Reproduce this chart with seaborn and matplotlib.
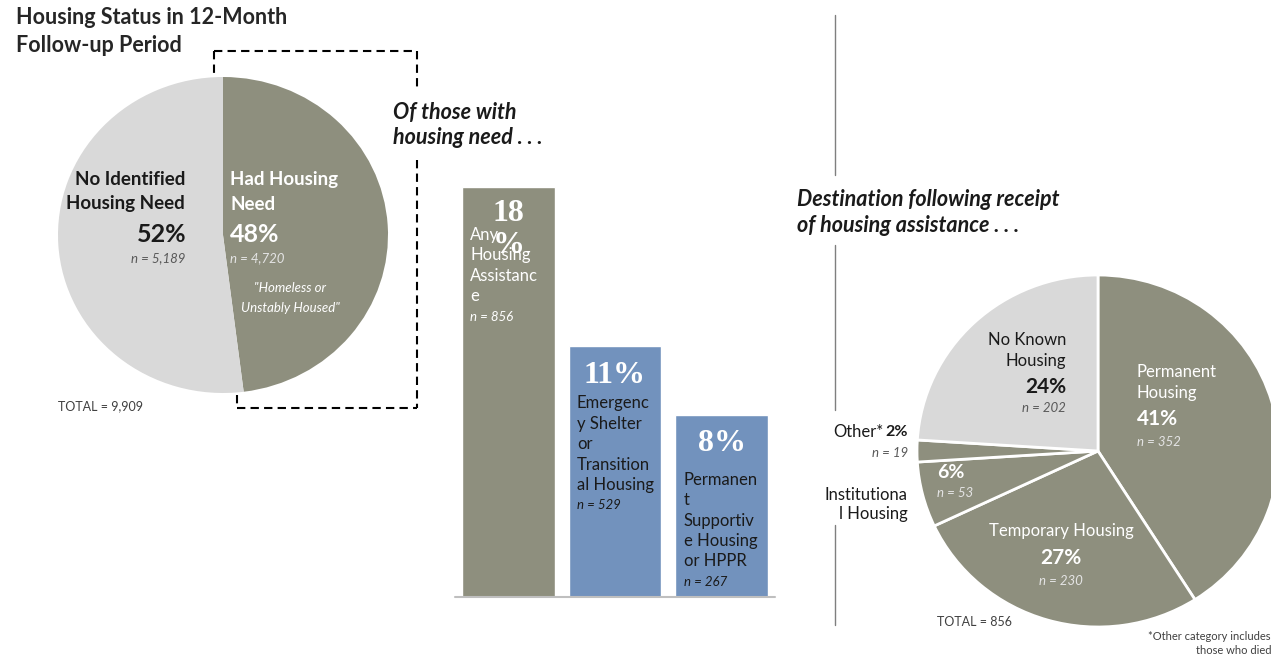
import matplotlib
matplotlib.use('Agg')
import matplotlib.pyplot as plt
from matplotlib.lines import Line2D
import seaborn as sns

# left pie: housing status in 12-month follow-up
status_labels = ['Had Housing Need', 'No Identified Housing Need']
status_pct = [48, 52]
status_n = ['4,720', '5,189']
status_total = '9,909'

# bars: of those with housing need
assist_labels = ['Any Housing Assistance',
                 'Emergency Shelter or Transitional Housing',
                 'Permanent Supportive Housing or HPPR']
assist_pct = [18, 11, 8]
assist_n = [856, 529, 267]
# wrapped the same way as the text boxes in the original
assist_lines = [['Any', 'Housing', 'Assistanc', 'e'],
                ['Emergenc', 'y Shelter', 'or', 'Transition', 'al Housing'],
                ['Permanen', 't', 'Supportiv', 'e Housing', 'or HPPR']]
assist_big = [['18', '%'], ['11%'], ['8%']]

# right pie: destination following receipt of housing assistance
dest_labels = ['Permanent Housing', 'Temporary Housing', 'Institutional Housing',
               'Other*', 'No Known Housing']
dest_pct = [41, 27, 6, 2, 24]
dest_n = [352, 230, 53, 19, 202]
dest_total = 856

OLIVE = '#8e8f7e'
LIGHT = '#d9d9d9'
BLUE = '#7292bd'
DARK = '#1a1a1a'
GREY_TXT = '#595959'
N_LIGHT = '#e4e4e4'

sns.set_style('white')
plt.rcParams['font.family'] = ['Lato', 'DejaVu Sans']
SERIF = ['Liberation Serif', 'DejaVu Serif']

W, H = 1271, 659
fig = plt.figure(figsize=(W / 100, H / 100), dpi=100)


def axes_px(left, top, right, bottom):
    return fig.add_axes([left / W, 1 - bottom / H, (right - left) / W, (bottom - top) / H])


def put(px, py, s, **kw):
    kw.setdefault('va', 'center')
    return fig.text(px / W, 1 - py / H, s, **kw)


def seg(xs, ys, **kw):
    fig.add_artist(Line2D([x / W for x in xs], [1 - y / H for y in ys],
                          transform=fig.transFigure, **kw))


# ---- title
put(16, 17, 'Housing Status in 12-Month', fontsize=15.5, fontweight='bold', color='#262626')
put(16, 45, 'Follow-up Period', fontsize=15.5, fontweight='bold', color='#262626')

# ---- left pie
ax1 = axes_px(58, 77, 388, 393)
ax1.pie(status_pct, colors=[OLIVE, LIGHT], startangle=90, counterclock=False,
        wedgeprops=dict(linewidth=0))
ax1.set_aspect('auto')
ax1.set_xlim(-1, 1)
ax1.set_ylim(-1, 1)

put(185, 180, 'No Identified', ha='right', fontsize=13.5, fontweight='bold', color=DARK)
put(185, 204, 'Housing Need', ha='right', fontsize=13.5, fontweight='bold', color=DARK)
put(187, 234, f'{status_pct[1]}%', ha='right', fontsize=18, fontweight='bold', color=DARK)
put(185, 258, f'n = {status_n[1]}', ha='right', fontsize=9.5, style='italic', color=GREY_TXT)

put(230, 180, 'Had Housing', ha='left', fontsize=13.5, fontweight='bold', color='white')
put(230, 204, 'Need', ha='left', fontsize=13.5, fontweight='bold', color='white')
put(230, 234, f'{status_pct[0]}%', ha='left', fontsize=18, fontweight='bold', color='white')
put(230, 258, f'n = {status_n[0]}', ha='left', fontsize=9.5, style='italic', color=N_LIGHT)
put(290, 288, '"Homeless or', ha='center', fontsize=9.5, style='italic', color='white')
put(290, 308, 'Unstably Housed"', ha='center', fontsize=9.5, style='italic', color='white')
put(58, 406, f'TOTAL = {status_total}', ha='left', fontsize=9, color='#404040')

# dashed callout box around the "had housing need" half
dash = dict(color='black', linewidth=1.5, linestyle=(0, (4, 2.5)))
seg([214, 417], [51, 51], **dash)
seg([214, 214], [51, 77], **dash)
seg([417, 417], [51, 88], **dash)
seg([417, 417], [160, 408], **dash)
seg([237, 417], [408, 408], **dash)
seg([237, 237], [395, 408], **dash)

put(393, 113, 'Of those with', ha='left', fontsize=15.5, fontweight='bold', style='italic', color=DARK)
put(393, 138, 'housing need . . .', ha='left', fontsize=15.5, fontweight='bold', style='italic', color=DARK)

# ---- bars
ax2 = axes_px(455, 187, 775, 597)
sns.barplot(x=assist_labels, y=assist_pct, hue=assist_labels, palette=[OLIVE, BLUE, BLUE],
            width=0.87, saturation=1, legend=False, ax=ax2)
ax2.set_xlim(-0.5, 2.5)
ax2.set_ylim(0, max(assist_pct))
ax2.set_axis_off()
ax2.axhline(0, color='#bfbfbf', linewidth=1.5, clip_on=False)

big_drop = [26, 29, 29]
label_drop = [48, 57, 65]
text_cols = ['white', DARK, DARK]
for i, v in enumerate(assist_pct):
    for k, s in enumerate(assist_big[i]):
        ax2.annotate(s, xy=(i, v), xytext=(0, -big_drop[i] - 32 * k), textcoords='offset pixels',
                     ha='center', va='center', fontsize=23, fontweight='bold', color='white',
                     family=SERIF)
    lines = assist_lines[i] + [f'n = {assist_n[i]}']
    for k, s in enumerate(lines):
        last = k == len(lines) - 1
        ax2.annotate(s, xy=(i, v), xytext=(-38, -label_drop[i] - 20.4 * k),
                     textcoords='offset pixels', ha='left', va='center',
                     fontsize=9.5 if last else 12, style='italic' if last else 'normal',
                     color=text_cols[i])

# ---- separator
sep = dict(color='#7f7f7f', linewidth=1)
seg([835, 835], [15, 175], **sep)
seg([835, 835], [245, 410], **sep)
seg([835, 835], [525, 625], **sep)

put(797, 200, 'Destination following receipt', ha='left', fontsize=15.5, fontweight='bold',
    style='italic', color=DARK)
put(797, 225, 'of housing assistance . . .', ha='left', fontsize=15.5, fontweight='bold',
    style='italic', color=DARK)

# ---- right pie
ax3 = axes_px(917, 275, 1279, 627)
ax3.pie(dest_pct, colors=[OLIVE, OLIVE, OLIVE, OLIVE, LIGHT], startangle=90,
        counterclock=False, wedgeprops=dict(edgecolor='white', linewidth=2))
ax3.set_aspect('auto')
ax3.set_xlim(-1, 1)
ax3.set_ylim(-1, 1)

put(1137, 372, 'Permanent', ha='left', fontsize=12, color='white')
put(1137, 393, 'Housing', ha='left', fontsize=12, color='white')
put(1137, 419, f'{dest_pct[0]}%', ha='left', fontsize=15, fontweight='bold', color='white')
put(1137, 442, f'n = {dest_n[0]}', ha='left', fontsize=9.5, style='italic', color=N_LIGHT)

put(1066, 340, 'No Known', ha='right', fontsize=12, color=DARK)
put(1066, 361, 'Housing', ha='right', fontsize=12, color=DARK)
put(1066, 387, f'{dest_pct[4]}%', ha='right', fontsize=15, fontweight='bold', color=DARK)
put(1066, 408, f'n = {dest_n[4]}', ha='right', fontsize=9.5, style='italic', color=GREY_TXT)

put(1061, 531, 'Temporary Housing', ha='center', fontsize=12, color='white')
put(1061, 558, f'{dest_pct[1]}%', ha='center', fontsize=15, fontweight='bold', color='white')
put(1061, 581, f'n = {dest_n[1]}', ha='center', fontsize=9.5, style='italic', color=N_LIGHT)

put(937, 472, f'{dest_pct[2]}%', ha='left', fontsize=14, fontweight='bold', color='white')
put(937, 493, f'n = {dest_n[2]}', ha='left', fontsize=9.5, style='italic', color=N_LIGHT)

put(908, 432, f'{dest_pct[3]}%', ha='right', fontsize=11.5, fontweight='bold', color=DARK)
put(883, 432, 'Other*', ha='right', fontsize=12, color=DARK)
put(908, 453, f'n = {dest_n[3]}', ha='right', fontsize=9.5, style='italic', color=GREY_TXT)
put(908, 495, 'Institutiona', ha='right', fontsize=12, color=DARK)
put(908, 514, 'l Housing', ha='right', fontsize=12, color=DARK)

put(937, 622, f'TOTAL = {dest_total}', ha='left', fontsize=9, color='#404040')
put(1271, 637, '*Other category includes', ha='right', fontsize=8, color='#404040')
put(1271, 651, 'those who died', ha='right', fontsize=8, color='#404040')

fig.savefig('out.png', dpi=100)
